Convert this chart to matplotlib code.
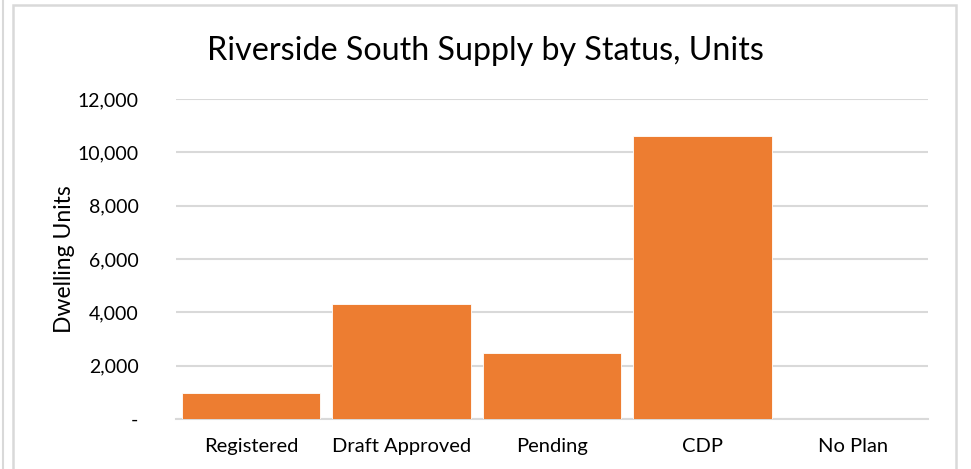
import matplotlib.pyplot as plt
from matplotlib.ticker import FuncFormatter, MultipleLocator
from matplotlib.patches import Rectangle
from matplotlib.lines import Line2D

categories = ["Registered", "Draft Approved", "Pending", "CDP", "No Plan"]
units = [960, 4320, 2460, 10610, 0]

plt.rcParams['font.family'] = ['Lato', 'DejaVu Sans']

fig = plt.figure(figsize=(9.71, 4.69), dpi=100)
ax = fig.add_axes([176 / 971, 1 - 419 / 469, (928 - 176) / 971, (419 - 99) / 469])

grid_col = '#D9D9D9'
ax.bar(range(len(categories)), units, width=0.92, color='#ED7D31',
       edgecolor='white', linewidth=0.6, zorder=3)

ax.set_xlim(-0.5, len(categories) - 0.5)
ax.set_ylim(0, 12000)
ax.yaxis.set_major_locator(MultipleLocator(2000))
ax.yaxis.set_major_formatter(FuncFormatter(lambda v, p: '-' if v == 0 else f'{v:,.0f}'))
ax.set_xticks(range(len(categories)))
ax.set_xticklabels(categories)

ax.grid(axis='y', color=grid_col, linewidth=1.5, zorder=0)
for s in ['top', 'right', 'left']:
    ax.spines[s].set_visible(False)
ax.spines['bottom'].set_color(grid_col)
ax.spines['bottom'].set_linewidth(1.5)
ax.tick_params(axis='both', length=0, labelsize=14, colors='#000000')
ax.tick_params(axis='x', labelsize=14.5, pad=14)
ax.tick_params(axis='y', pad=27)

ax.set_ylabel("Dwelling Units", fontsize=16.5, labelpad=2)
fig.text(0.5, 1 - 51 / 469, "Riverside South Supply by Status, Units",
         ha='center', va='center', fontsize=23.2)

# chart border like the spreadsheet frame
fig.patches.append(Rectangle((13 / 971, -0.1), (956 - 13) / 971, 1.1 - 5 / 469,
                             transform=fig.transFigure, fill=False,
                             edgecolor=grid_col, linewidth=1.8))
fig.lines.append(Line2D([2.5 / 971, 2.5 / 971], [0, 1], transform=fig.transFigure,
                        color=grid_col, linewidth=1.5))

fig.savefig("out.png", dpi=100, facecolor='white')
